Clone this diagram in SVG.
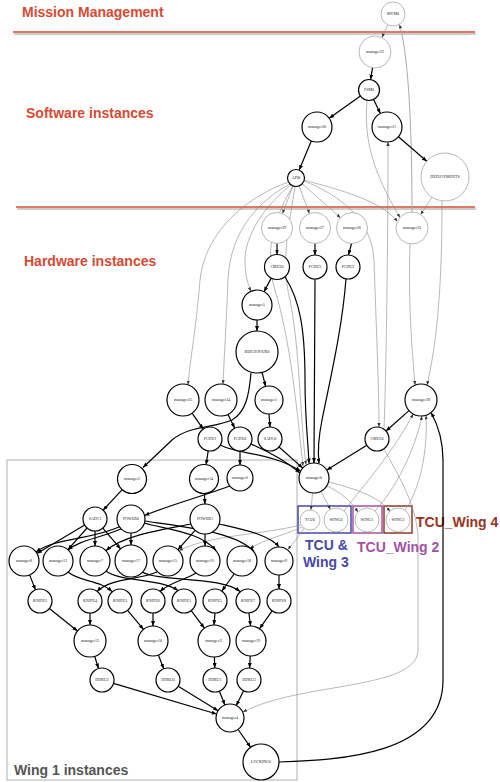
<svg xmlns="http://www.w3.org/2000/svg" width="500" height="782" viewBox="0 0 500 782">
<style>
.sec{font-family:"Liberation Sans",Arial,sans-serif;font-weight:bold;font-size:14px;fill:#d84a33}
.lbl{font-family:"Liberation Sans",Arial,sans-serif;font-weight:bold;font-size:14px}
.n circle{fill:#fff;stroke:#000;stroke-width:1.2}
.t circle{fill:#fff;stroke:#888;stroke-width:0.6}
.n text,.t text{font-family:"Liberation Serif","Times New Roman",serif;font-size:4px;fill:#222;text-anchor:middle}
.k{fill:none;stroke:#000;stroke-width:1.2;marker-end:url(#ah)}
.g{fill:none;stroke:#888;stroke-width:0.6;marker-end:url(#as)}
</style>
<defs>
<marker id="ah" viewBox="0 0 10 8" refX="10" refY="4" markerWidth="5" markerHeight="4" orient="auto" markerUnits="userSpaceOnUse"><path d="M0,0L10,4L0,8z" fill="#000"/></marker>
<marker id="as" viewBox="0 0 10 8" refX="10" refY="4" markerWidth="4" markerHeight="3.2" orient="auto" markerUnits="userSpaceOnUse"><path d="M0,0L10,4L0,8z" fill="#333"/></marker>
</defs>
<rect width="500" height="782" fill="#fff"/>

<g id="sections">
<line x1="14" y1="34" x2="476" y2="34" stroke="#ccc" stroke-width="2"/>
<line x1="13" y1="32" x2="475" y2="32" stroke="#d84a33" stroke-width="1.5"/>
<line x1="17" y1="209" x2="476" y2="209" stroke="#ccc" stroke-width="2"/>
<line x1="16" y1="207" x2="475" y2="207" stroke="#d84a33" stroke-width="1.5"/>
<text class="sec" x="22" y="17">Mission Management</text>
<text class="sec" x="26" y="118">Software instances</text>
<text class="sec" x="24" y="266">Hardware instances</text>
</g>

<g id="clusters">
<rect x="7" y="460" width="290" height="320" fill="none" stroke="#b0b0b0" stroke-width="1"/>
<text class="lbl" x="14" y="775" fill="#555">Wing 1 instances</text>
<rect x="298" y="506" width="53" height="27" fill="none" stroke="#4848a8" stroke-width="1.5"/>
<rect x="353" y="506" width="29" height="27" fill="none" stroke="#a452a4" stroke-width="1.5"/>
<rect x="384" y="506" width="28" height="27" fill="none" stroke="#8e3b2a" stroke-width="1.5"/>
<text class="lbl" x="305" y="550" fill="#4848a8">TCU &amp;</text>
<text class="lbl" x="303" y="567" fill="#4848a8">Wing 3</text>
<text class="lbl" x="357" y="552" fill="#a452a4">TCU_Wing 2</text>
<text class="lbl" x="416" y="527" fill="#993322">TCU_Wing 4</text>
</g>

<g id="connectors">
<path class="g" d="M387.8,24.9L381.9,37.5"/>
<path class="k" d="M372.5,67.8L370.6,79.6"/>
<path class="k" d="M360.4,96.1L329.2,118.3"/>
<path class="k" d="M373.6,99.5L380.4,113.5"/>
<path class="g" d="M367,100.5C364,140 372,170 400,217.5"/>
<path d="M412,212C412,150 410,60 399.5,24.5" fill="none" stroke="#aaa" stroke-width="1" marker-end="url(#as)"/>
<path class="k" d="M398.4,136.8L426.8,161.3"/>
<path class="g" d="M432,197.2L420.7,214.6"/>
<path class="g" d="M442,201C442,260 440,330 427,385"/>
<path class="g" d="M410,244C408,300 412,350 415,385"/>
<path class="k" d="M311.3,140.9L299.2,170.1"/>
<path class="g" d="M293,185.9L282.5,213.5"/>
<path class="g" d="M299,185.9L309.5,213.5"/>
<path class="g" d="M302.3,183.7L340.4,217.7"/>
<path class="g" d="M304,180C340,190 380,200 397.5,221.5"/>
<path class="g" d="M304,181C340,195 372,220 374,260C376,320 379,390 379,427"/>
<path class="g" d="M384,428C386,380 388,250 388,142"/>
<path class="g" d="M289,182C250,195 205,230 200,280C196,330 190,360 188,384.7"/>
<path class="g" d="M290,184C260,200 230,230 228,280C226,330 224,360 223,384.1"/>
<path class="g" d="M291,185C265,205 245,235 245,260C245,275 248,285 251,291.2"/>
<path class="g" d="M293,186C278,210 262,250 275,290C290,340 296,400 303,466"/>
<path class="g" d="M295,187C290,220 280,260 290,300C300,350 300,420 306,464.5"/>
<path class="k" d="M277,243.5L277,254.5"/>
<path class="k" d="M315,243.5L315,255"/>
<path class="k" d="M351.5,243.5L348.5,255"/>
<path class="k" d="M271.2,278.1L264,291.7"/>
<path class="k" d="M285,277C300,300 305,330 305,380C305,420 308,440 309,463.5"/>
<path class="k" d="M315,279L314,463"/>
<path class="k" d="M346,279C342,330 330,380 322,420C318,440 318,455 319,463.5"/>
<path class="k" d="M257,320L257,331"/>
<path class="k" d="M262.1,372.4L265.6,386.4"/>
<path class="k" d="M251,373C249,395 246,412 232,420C215,428 190,425 172,440L143,467.5"/>
<path class="k" d="M269,414L270,427"/>
<path class="k" d="M192.1,413.2L203.2,429.1"/>
<path class="k" d="M228,414.4L234.7,428.2"/>
<path class="k" d="M208.2,450.9L206.1,464.7"/>
<path class="k" d="M240,451L240,465"/>
<path class="k" d="M220,445C240,455 270,452 300.5,471"/>
<path class="k" d="M251,444C270,452 285,460 300,473"/>
<path class="k" d="M279,447L302.8,468.1"/>
<path class="k" d="M409,410.6L386,431"/>
<path class="k" d="M366.8,445.3L326.8,470.1"/>
<path class="g" d="M312.6,493L310.9,510"/>
<path class="g" d="M321,491.3L330.4,509.4"/>
<path class="g" d="M327,486C340,492 350,500 358,512"/>
<path class="g" d="M329,482C360,490 380,498 390,511.5"/>
<path class="g" d="M344,511C360,490 395,450 413,414"/>
<path class="g" d="M375,511C395,490 415,450 422,416"/>
<path class="g" d="M405,510C420,490 428,450 426,415.5"/>
<path class="k" d="M279,762C340,760 443,755 443,680L443,460C443,440 438,425 431,412.5"/>
<path class="g" d="M384,449C395,470 415,500 418,535L418,650C418,690 300,682 243,712"/>
<path class="g" d="M304,528C298,538 292,544 288,549.5"/>
<path class="g" d="M301,525C260,535 210,535 179,550.5"/>
<path class="g" d="M302,527C285,535 268,538 250,548.3"/>
<path class="k" d="M122.2,489.6L103.1,510.2"/>
<path class="k" d="M204.4,493.5L205,504"/>
<path class="k" d="M230,486C200,497 170,505 144.5,515.5"/>
<path class="k" d="M84.7,525.1L36.9,553.4"/>
<path class="k" d="M87.1,528L67.9,549.7"/>
<path class="k" d="M95,531L95,546"/>
<path class="k" d="M102.8,528.1L120.6,548.9"/>
<path class="k" d="M119,527C90,540 55,538 36,552"/>
<path class="k" d="M121,529C100,538 80,540 68,550"/>
<path class="k" d="M131,533L131,545"/>
<path class="k" d="M144,523C170,530 200,532 216,550.5"/>
<path class="k" d="M145,521C190,528 235,532 254,551.5"/>
<path class="k" d="M191,524C160,530 125,535 106,550.5"/>
<path class="k" d="M195.1,530.3L177.9,549.7"/>
<path class="k" d="M205,534L205,546"/>
<path class="k" d="M219,524C245,530 270,535 279,547"/>
<path class="k" d="M29.6,574.9L35.5,589.9"/>
<path class="k" d="M68,572C80,582 100,580 112,591.6"/>
<path class="k" d="M106,571C120,582 160,578 178,590.5"/>
<path class="k" d="M142,572C160,582 220,576 240,591.5"/>
<path class="k" d="M157,572C140,580 110,578 97,591.5"/>
<path class="k" d="M196,573C185,580 170,582 160,591.5"/>
<path class="k" d="M234,574C230,580 226,585 222,591"/>
<path class="k" d="M279,575L279,589"/>
<path class="k" d="M49.4,608.5L77.5,631"/>
<path class="k" d="M90,613L90,625"/>
<path class="k" d="M127.6,610.3L143.5,629.4"/>
<path class="k" d="M153,613L153,626"/>
<path class="k" d="M191.2,610.6L204.4,628.2"/>
<path class="k" d="M215,613L214,625"/>
<path class="k" d="M248.9,613L250.6,626"/>
<path class="k" d="M272.1,610.8L259.6,628.7"/>
<path class="k" d="M94.7,656.3L98.5,668.5"/>
<path class="k" d="M158.4,655L163.7,668.8"/>
<path class="k" d="M214.4,657L214.8,668"/>
<path class="k" d="M250.2,656L249.6,668"/>
<path class="k" d="M113.5,683.4L216.6,714"/>
<path class="k" d="M178.2,686.3L218.1,710.7"/>
<path class="k" d="M219.4,691.2L224.9,705"/>
<path class="k" d="M243.6,690.7L236.3,705.5"/>
<path class="k" d="M238.1,729.5L250.6,747.3"/>
</g>

<g id="MVM0" class="t"><circle cx="393" cy="14" r="12"/><text x="393" y="15.4">MVM0</text></g>
<g id="manager22" class="t"><circle cx="375" cy="52" r="16"/><text x="375" y="53.4">manager22</text></g>
<g id="FSM0" class="n"><circle cx="369" cy="90" r="10.5"/><text x="369" y="91.4">FSM0</text></g>
<g id="manager20" class="n"><circle cx="317" cy="127" r="15"/><text x="317" y="128.4">manager20</text></g>
<g id="manager21" class="n"><circle cx="387" cy="127" r="15"/><text x="387" y="128.4">manager21</text></g>
<g id="DEPLOYMENTS" class="t"><circle cx="445" cy="177" r="24"/><text x="445" y="178.4">DEPLOYMENTS</text></g>
<g id="API0" class="n"><circle cx="296" cy="178" r="8.5"/><text x="296" y="179.4">API0</text></g>
<g id="manager29" class="t"><circle cx="277" cy="228" r="15.5"/><text x="277" y="229.4">manager29</text></g>
<g id="manager27" class="t"><circle cx="315" cy="228" r="15.5"/><text x="315" y="229.4">manager27</text></g>
<g id="manager26" class="t"><circle cx="352" cy="228" r="15.5"/><text x="352" y="229.4">manager26</text></g>
<g id="manager23" class="t"><circle cx="412" cy="228" r="16"/><text x="412" y="229.4">manager23</text></g>
<g id="CMU20" class="n"><circle cx="277" cy="267" r="12.5"/><text x="277" y="268.4">CMU20</text></g>
<g id="PCDU3" class="n"><circle cx="315" cy="267" r="12"/><text x="315" y="268.4">PCDU3</text></g>
<g id="PCDU2" class="n"><circle cx="348" cy="267" r="12"/><text x="348" y="268.4">PCDU2</text></g>
<g id="manager5" class="n"><circle cx="257" cy="305" r="15"/><text x="257" y="306.4">manager5</text></g>
<g id="BEHAVIOUR0" class="n"><circle cx="257" cy="352" r="21"/><text x="257" y="353.4">BEHAVIOUR0</text></g>
<g id="manager25" class="n"><circle cx="183" cy="400" r="16"/><text x="183" y="401.4">manager25</text></g>
<g id="manager24" class="n"><circle cx="221" cy="400" r="16"/><text x="221" y="401.4">manager24</text></g>
<g id="manager1" class="n"><circle cx="269" cy="400" r="14"/><text x="269" y="401.4">manager1</text></g>
<g id="PCDU1" class="n"><circle cx="210" cy="439" r="12"/><text x="210" y="440.4">PCDU1</text></g>
<g id="PCDU0" class="n"><circle cx="240" cy="439" r="12"/><text x="240" y="440.4">PCDU0</text></g>
<g id="SADC0" class="n"><circle cx="270" cy="439" r="12"/><text x="270" y="440.4">SADC0</text></g>
<g id="manager28" class="n"><circle cx="421" cy="400" r="16"/><text x="421" y="401.4">manager28</text></g>
<g id="CMU10" class="n"><circle cx="377" cy="439" r="12"/><text x="377" y="440.4">CMU10</text></g>
<g id="manager0" class="n"><circle cx="314" cy="478" r="15"/><text x="314" y="479.4">manager0</text></g>
<g id="TCU0" class="t"><circle cx="310" cy="520" r="10"/><text x="310" y="521.4">TCU0</text></g>
<g id="WING0" class="t"><circle cx="336" cy="520" r="12"/><text x="336" y="521.4">WING0</text></g>
<g id="WING1" class="t"><circle cx="367" cy="520" r="12"/><text x="367" y="521.4">WING1</text></g>
<g id="WING2" class="t"><circle cx="398" cy="520" r="12"/><text x="398" y="521.4">WING2</text></g>
<g id="manager2" class="n"><circle cx="132" cy="479" r="14.5"/><text x="132" y="480.4">manager2</text></g>
<g id="manager14" class="n"><circle cx="204" cy="479" r="14.5"/><text x="204" y="480.4">manager14</text></g>
<g id="manager6" class="n"><circle cx="240" cy="478" r="13"/><text x="240" y="479.4">manager6</text></g>
<g id="SADC1" class="n"><circle cx="95" cy="519" r="12"/><text x="95" y="520.4">SADC1</text></g>
<g id="POWER0" class="n"><circle cx="131" cy="519" r="14"/><text x="131" y="520.4">POWER0</text></g>
<g id="POWER1" class="n"><circle cx="205" cy="519" r="15"/><text x="205" y="520.4">POWER1</text></g>
<g id="manager8" class="n"><circle cx="24" cy="561" r="15"/><text x="24" y="562.4">manager8</text></g>
<g id="manager12" class="n"><circle cx="58" cy="561" r="15"/><text x="58" y="562.4">manager12</text></g>
<g id="manager7" class="n"><circle cx="95" cy="561" r="15"/><text x="95" y="562.4">manager7</text></g>
<g id="manager17" class="n"><circle cx="131" cy="561" r="16"/><text x="131" y="562.4">manager17</text></g>
<g id="manager15" class="n"><circle cx="168" cy="561" r="15"/><text x="168" y="562.4">manager15</text></g>
<g id="manager16" class="n"><circle cx="205" cy="561" r="15"/><text x="205" y="562.4">manager16</text></g>
<g id="manager18" class="n"><circle cx="242" cy="561" r="15"/><text x="242" y="562.4">manager18</text></g>
<g id="manager9" class="n"><circle cx="279" cy="561" r="14"/><text x="279" y="562.4">manager9</text></g>
<g id="KNIFE2" class="n"><circle cx="40" cy="601" r="12"/><text x="40" y="602.4">KNIFE2</text></g>
<g id="KNIFE4" class="n"><circle cx="90" cy="601" r="12"/><text x="90" y="602.4">KNIFE4</text></g>
<g id="KNIFE3" class="n"><circle cx="120" cy="601" r="12"/><text x="120" y="602.4">KNIFE3</text></g>
<g id="KNIFE6" class="n"><circle cx="153" cy="601" r="12"/><text x="153" y="602.4">KNIFE6</text></g>
<g id="KNIFE1" class="n"><circle cx="184" cy="601" r="12"/><text x="184" y="602.4">KNIFE1</text></g>
<g id="KNIFE5" class="n"><circle cx="215" cy="601" r="12"/><text x="215" y="602.4">KNIFE5</text></g>
<g id="KNIFE7" class="n"><circle cx="248" cy="601" r="12"/><text x="248" y="602.4">KNIFE7</text></g>
<g id="KNIFE8" class="n"><circle cx="279" cy="601" r="12"/><text x="279" y="602.4">KNIFE8</text></g>
<g id="manager13" class="n"><circle cx="90" cy="641" r="16"/><text x="90" y="642.4">manager13</text></g>
<g id="manager10" class="n"><circle cx="153" cy="641" r="15"/><text x="153" y="642.4">manager10</text></g>
<g id="manager11" class="n"><circle cx="214" cy="641" r="16"/><text x="214" y="642.4">manager11</text></g>
<g id="manager19" class="n"><circle cx="251" cy="641" r="15"/><text x="251" y="642.4">manager19</text></g>
<g id="HDRU2" class="n"><circle cx="102" cy="680" r="12"/><text x="102" y="681.4">HDRU2</text></g>
<g id="HDRU0" class="n"><circle cx="168" cy="680" r="12"/><text x="168" y="681.4">HDRU0</text></g>
<g id="HDRU1" class="n"><circle cx="215" cy="680" r="12"/><text x="215" y="681.4">HDRU1</text></g>
<g id="HDRU3" class="n"><circle cx="249" cy="680" r="12"/><text x="249" y="681.4">HDRU3</text></g>
<g id="manager4" class="n"><circle cx="230" cy="718" r="14"/><text x="230" y="719.4">manager4</text></g>
<g id="LOCKING0" class="n"><circle cx="261" cy="762" r="18"/><text x="261" y="763.4">LOCKING0</text></g>
</svg>
